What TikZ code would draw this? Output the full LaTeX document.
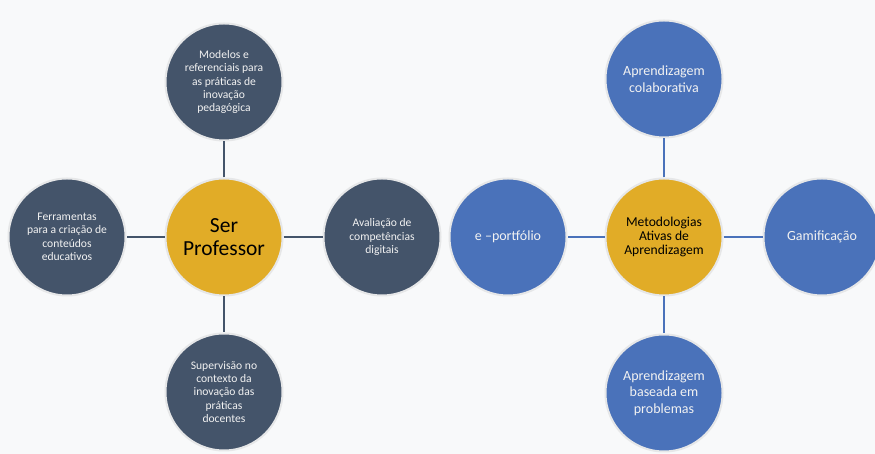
\documentclass[tikz,border=0pt]{standalone}
\usepackage{fontspec}
\setmainfont{Carlito}
\usepackage{xcolor}
\usepackage{tikz}
\definecolor{paper}{HTML}{F8F9FA}
\definecolor{slate}{HTML}{44546A}
\definecolor{gold}{HTML}{E1AC27}
\definecolor{mblue}{HTML}{4A72BA}
\definecolor{rim}{HTML}{E6E7E8}
\tikzset{
  topic/.style={circle,minimum size=117pt,inner sep=0pt,draw=rim,line width=2pt,
    fill=slate,text=white!95!black,align=center,font=\fontsize{11.6}{13.4}\selectfont},
  core/.style={topic,fill=gold,text=black},
  method/.style={topic,fill=mblue,font=\fontsize{14}{16.6}\selectfont},
  link/.style={draw=slate,line width=2.5pt},
  mlink/.style={draw=mblue,line width=2.5pt},
}

\begin{document}
\begin{tikzpicture}[x=1pt,y=1pt]
      \fill[paper] (0,0) rectangle (875,454);
      \useasboundingbox (0,0) rectangle (875,454);
      \clip (0,0) rectangle (875,454);
      % Ser Professor
      \node[core,font=\fontsize{21.5}{23.5}\selectfont] (ser) at (224,217) {Ser\\Professor};
      \node[topic] (mod) at (224,372) {Modelos e\\referenciais para\\as práticas de\\inovação\\pedagógica};
      \node[topic] (ferr) at (67,217) {Ferramentas\\para a criação de\\conteúdos\\educativos};
      \node[topic] (aval) at (382,217) {Avaliação de\\competências\\digitais};
      \node[topic] (sup) at (224,62) {Supervisão no\\contexto da\\inovação das\\práticas\\docentes};
      \path[link] (ser) edge (mod);
      \path[link] (ser) edge (ferr);
      \path[link] (ser) edge (aval);
      \path[link] (ser) edge (sup);
      % Metodologias Ativas
      \node[core,font=\fontsize{13.6}{14.3}\selectfont] (met) at (664,217) {Metodologias\\Ativas de\\Aprendizagem};
      \node[method] (colab) at (664,375) {Aprendizagem\\colaborativa};
      \node[method] (port) at (508,217) {e –portfólio};
      \node[method] (gam) at (822,217) {Gamificação};
      \node[method] (pbl) at (664,61) {Aprendizagem\\baseada em\\problemas};
      \path[mlink] (met) edge (colab);
      \path[mlink] (met) edge (port);
      \path[mlink] (met) edge (gam);
      \path[mlink] (met) edge (pbl);
    \end{tikzpicture}
\end{document}
